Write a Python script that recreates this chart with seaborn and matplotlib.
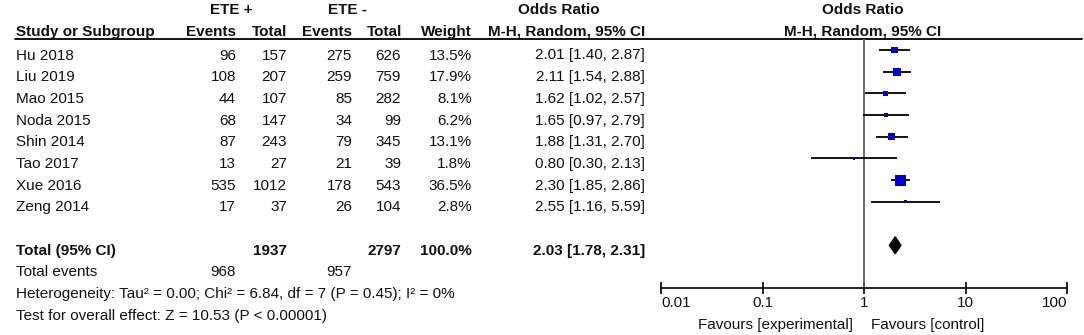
import numpy as np
import pandas as pd
import matplotlib.pyplot as plt
import seaborn as sns

# study data
studies = ['Hu 2018', 'Liu 2019', 'Mao 2015', 'Noda 2015', 'Shin 2014', 'Tao 2017', 'Xue 2016', 'Zeng 2014']
pos_events = [96, 108, 44, 68, 87, 13, 535, 17]
pos_total = [157, 207, 107, 147, 243, 27, 1012, 37]
neg_events = [275, 259, 85, 34, 79, 21, 178, 26]
neg_total = [626, 759, 282, 99, 345, 39, 543, 104]
weight = [13.5, 17.9, 8.1, 6.2, 13.1, 1.8, 36.5, 2.8]
odds = [2.01, 2.11, 1.62, 1.65, 1.88, 0.80, 2.30, 2.55]
ci_low = [1.40, 1.54, 1.02, 0.97, 1.31, 0.30, 1.85, 1.16]
ci_high = [2.87, 2.88, 2.57, 2.79, 2.70, 2.13, 2.86, 5.59]

# pooled result
total_pos, total_neg = 1937, 2797
events_pos, events_neg = 968, 957
pooled_or, pooled_low, pooled_high = 2.03, 1.78, 2.31
heterogeneity = 'Heterogeneity: Tau² = 0.00; Chi² = 6.84, df = 7 (P = 0.45); I² = 0%'
overall = 'Test for overall effect: Z = 10.53 (P < 0.00001)'

ticks = [0.01, 0.1, 1, 10, 100]
tick_labels = ['0.01', '0.1', '1', '10', '100']

sns.set_theme(style='white')
plt.rcParams['font.family'] = ['Liberation Sans', 'DejaVu Sans']

W, H = 1084, 335
fig = plt.figure(figsize=(W / 100, H / 100), dpi=100)

# full-figure axes in pixel units for the table text
tab = fig.add_axes([0, 0, 1, 1])
tab.set_xlim(0, W)
tab.set_ylim(H, 0)
tab.axis('off')

step = 21.7
def text_y(i):
    y = 54 + step * i
    if i < 0:
        y -= 2   # header rows sit a little higher, above the rule
    return y + 5.5   # baseline

def mark_y(i):
    return 50 + step * i

fs = 11
def put(x, i, s, ha='right', bold=False):
    tab.text(x, text_y(i), s, ha=ha, va='baseline', fontsize=fs,
             fontweight='bold' if bold else 'normal', color='#111111')

# header
put(231, -2, 'ETE +', ha='center', bold=True)
put(347, -2, 'ETE -', ha='center', bold=True)
put(559, -2, 'Odds Ratio', ha='center', bold=True)
put(863, -2, 'Odds Ratio', ha='center', bold=True)
put(16, -1, 'Study or Subgroup', ha='left', bold=True)
put(236, -1, 'Events', bold=True)
put(287, -1, 'Total', bold=True)
put(352, -1, 'Events', bold=True)
put(402, -1, 'Total', bold=True)
put(472, -1, 'Weight', bold=True)
put(645, -1, 'M-H, Random, 95% CI', bold=True)
put(863, -1, 'M-H, Random, 95% CI', ha='center', bold=True)
tab.plot([15, 1082], [39, 39], color='black', lw=1.3)

for i, name in enumerate(studies):
    put(16, i, name, ha='left')
    put(236, i, str(pos_events[i]))
    put(287, i, str(pos_total[i]))
    put(352, i, str(neg_events[i]))
    put(401, i, str(neg_total[i]))
    put(472, i, f'{weight[i]:.1f}%')
    put(645, i, f'{odds[i]:.2f} [{ci_low[i]:.2f}, {ci_high[i]:.2f}]')

put(16, 9, 'Total (95% CI)', ha='left', bold=True)
put(287, 9, str(total_pos), bold=True)
put(401, 9, str(total_neg), bold=True)
put(472, 9, '100.0%', bold=True)
put(645, 9, f'{pooled_or:.2f} [{pooled_low:.2f}, {pooled_high:.2f}]', bold=True)
put(16, 10, 'Total events', ha='left')
put(236, 10, str(events_pos))
put(352, 10, str(events_neg))
put(16, 11, heterogeneity, ha='left')
put(16, 12, overall, ha='left')

# forest plot axes
x0, x1, y0, y1 = 661, 1067, 39, 288
ax = fig.add_axes([x0 / W, (H - y1) / H, (x1 - x0) / W, (y1 - y0) / H])
ax.set_facecolor('none')
ax.set_xscale('log')
ax.set_xlim(0.01, 100)
ax.set_ylim(y1, y0)

df = pd.DataFrame({'study': studies, 'odds': odds, 'low': ci_low, 'high': ci_high,
                   'weight': weight, 'y': [mark_y(i) for i in range(len(studies))]})
ax.hlines(df['y'], df['low'], df['high'], color='black', lw=1.3, zorder=2)
sns.scatterplot(data=df, x='odds', y='y', size='weight', sizes=(0, 64), size_norm=(0, 36.5),
                marker='s', color='#0000c8', edgecolor='none', legend=False, ax=ax, zorder=3)

yd = mark_y(9)
ax.fill([pooled_low, pooled_or, pooled_high, pooled_or], [yd, yd - 8.5, yd, yd + 8.5],
        color='black', zorder=3)
ax.axvline(1, color='#606060', lw=1.3, zorder=1)

for side in ['top', 'right', 'left']:
    ax.spines[side].set_visible(False)
ax.spines['bottom'].set_color('black')
ax.spines['bottom'].set_linewidth(1.2)
ax.set_xticks(ticks)
ax.set_xticklabels(tick_labels)
ax.minorticks_off()
ax.tick_params(axis='x', direction='inout', length=9, width=1.2, labelsize=fs,
               pad=1.5, colors='black', labelcolor='#111111', bottom=True)
ax.set_yticks([])
ax.set_xlabel('')
ax.set_ylabel('')
labels = ax.get_xticklabels()
labels[0].set_ha('left')
labels[-1].set_ha('right')

tab.text(853, 329.5, 'Favours [experimental]', ha='right', va='baseline', fontsize=fs, color='#111111')
tab.text(871, 329.5, 'Favours [control]', ha='left', va='baseline', fontsize=fs, color='#111111')

fig.savefig('out.png', dpi=100)
